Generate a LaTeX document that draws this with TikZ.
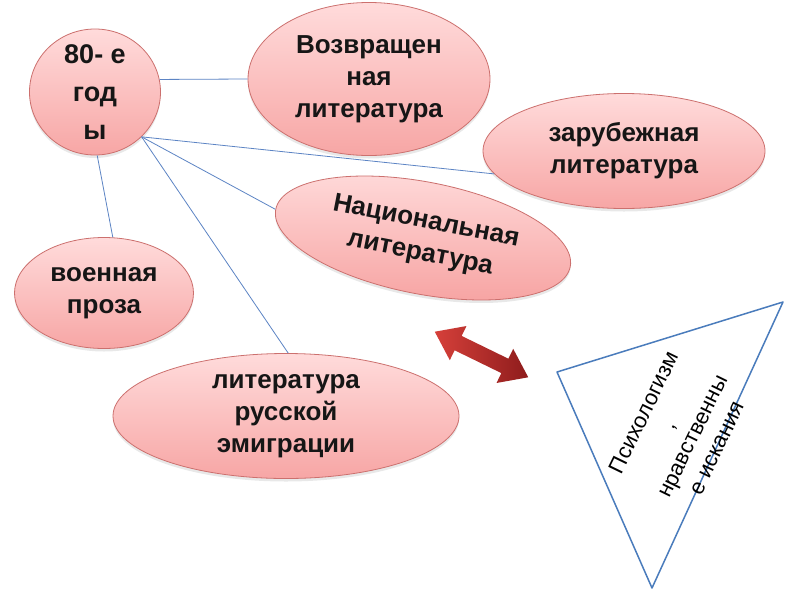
\documentclass[tikz,border=0pt]{standalone}
\usepackage{fontspec}
\setmainfont{Liberation Sans}
\usepackage{tikz}
\usetikzlibrary{shapes.geometric,shadows,calc,positioning}
\definecolor{litTop}{RGB}{255,219,219}
\definecolor{litBottom}{RGB}{247,166,165}
\definecolor{litEdge}{RGB}{204,112,110}
\definecolor{litInk}{RGB}{22,22,22}
\definecolor{litLink}{RGB}{92,132,196}
\definecolor{litTri}{RGB}{74,124,188}
\definecolor{litArrowA}{RGB}{214,64,58}
\definecolor{litArrowB}{RGB}{142,28,28}
\tikzset{
  bubble/.style={
    ellipse,
    draw=litEdge,
    line width=0.8pt,
    top color=litTop,
    bottom color=litBottom,
    drop shadow={opacity=0.18,shadow xshift=0pt,shadow yshift=-3pt},
    inner sep=-10pt,
    align=center,
    text=litInk,
    font=\fontsize{26}{32}\selectfont\bfseries
  },
  link/.style={draw=litLink,line width=0.8pt}
}

\begin{document}
\begin{tikzpicture}[x=1pt,y=-1pt]
  \path[use as bounding box,fill=white] (0,0) rectangle (800,600);
  \node[bubble,minimum width=131pt,minimum height=126pt,font=\fontsize{27}{38}\selectfont\bfseries] (years) at (95,92) {80- е\\год\\ы};
  \node[bubble,minimum width=242pt,minimum height=153pt] (ret) at (369,79) {Возвращен\\ная\\литература};
  \node[bubble,minimum width=282pt,minimum height=115pt] (zar) at (624,151) {зарубежная\\литература};
  \node[bubble,minimum width=300pt,minimum height=112pt,rotate=-11] (nat) at (423,238) {Национальная\\литература};
  \node[bubble,minimum width=179pt,minimum height=111pt] (voen) at (104,293) {военная\\проза};
  \node[bubble,minimum width=346pt,minimum height=125pt] (emig) at (286,416) {литература\\русской\\эмиграции};
  \draw[link] (years.11) -- (ret.west);
  \draw[link] (years.south east) -- (zar.190);
  \draw[link] (years.south east) -- (nat.west);
  \draw[link] (years.south east) -- (emig.88);
  \draw[link] (years.-88) -- (voen.81);
  \coordinate (arrowMid) at (481.5,354.5);
  \begin{scope}[shift={(arrowMid)},rotate=-26]
    \shade[left color=litArrowA,right color=litArrowB] (-52,0) -- (-26,19) -- (-26,8) -- (26,8) -- (26,19) -- (52,0) -- (26,-19) -- (26,-8) -- (-26,-8) -- (-26,-19) -- cycle;
  \end{scope}
  \coordinate (triA) at (557,372);
  \coordinate (triB) at (783,302);
  \coordinate (triC) at (652,588);
  \draw[litTri,line width=1.5pt,line join=round] (triA) -- (triB) -- (triC) -- cycle;
  \node[rotate=64,align=center,font=\fontsize{22}{27}\selectfont] (psych) at (680,430) {Психологизм\\,\\нравственны\\е искания};
\end{tikzpicture}
\end{document}
